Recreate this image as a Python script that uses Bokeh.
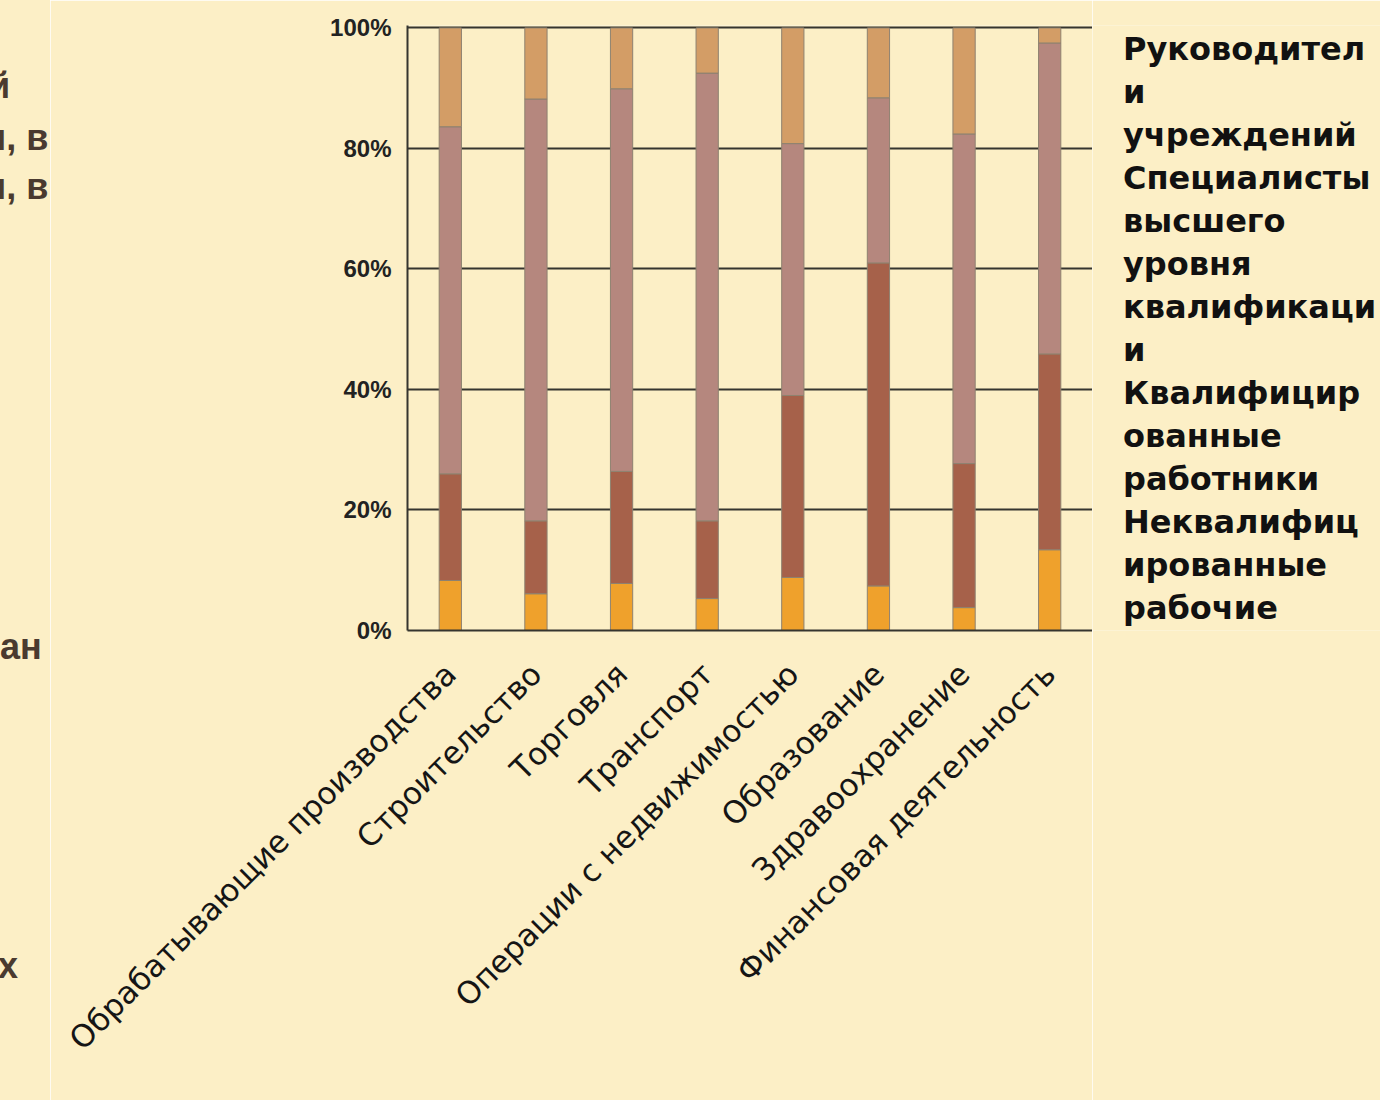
import math
from bokeh.plotting import figure
from bokeh.layouts import row
from bokeh.models import (ColumnDataSource, FactorRange, Range1d, FixedTicker,
                          Legend, LegendItem, Div)
from bokeh.embed import file_html
from bokeh.resources import INLINE

# ---------------- data ----------------
categories = ["Обрабатывающие производства", "Строительство", "Торговля", "Транспорт",
              "Операции с недвижимостью", "Образование", "Здравоохранение",
              "Финансовая деятельность"]
managers = [8.3, 6.1, 7.8, 5.3, 8.8, 7.4, 3.8, 13.4]
specialists = [17.7, 12.1, 18.6, 12.9, 30.2, 53.6, 23.9, 32.5]
skilled = [57.6, 70.0, 63.5, 74.3, 41.8, 27.4, 54.7, 51.6]
unskilled = [16.4, 11.8, 10.1, 7.5, 19.2, 11.6, 17.6, 2.5]

legend_labels = ["Руководител\nи\nучреждений",
                 "Специалисты\nвысшего\nуровня\nквалификаци\nи",
                 "Квалифицир\nованные\nработники",
                 "Неквалифиц\nированные\nрабочие"]
y_ticks = [0, 20, 40, 60, 80, 100]
y_tick_labels = {0: "0%", 20: "20%", 40: "40%", 60: "60%", 80: "80%", 100: "100%"}
side_fragments = ["й", "и, в", "и, в", "ан", "х"]

colors = ["#EFA12C", "#A6614A", "#B5877E", "#D39D66"]
BAR_LINE = "#8E8270"
BG = "#FCEFC6"

# ---------------- geometry (pixels) ----------------
H = 1100
DIV_W = 50
FRAME_TOP = 25
FRAME_BOTTOM = 630
FRAME_LEFT = 407
FRAME_RIGHT = 1092
LEG_W = 288
MAIN_W = FRAME_RIGHT - DIV_W

# ---------------- main chart ----------------
source = ColumnDataSource(dict(cat=categories, m=managers, s=specialists,
                               k=skilled, u=unskilled))

p = figure(width=MAIN_W, height=H, x_range=FactorRange(*categories),
           y_range=Range1d(0, 100.4), output_backend="svg", toolbar_location=None,
           min_border_left=FRAME_LEFT - DIV_W, min_border_right=0,
           min_border_top=FRAME_TOP, min_border_bottom=H - FRAME_BOTTOM)
p.background_fill_color = BG
p.border_fill_color = BG
p.outline_line_color = None

rs = p.vbar_stack(["m", "s", "k", "u"], x="cat", width=0.26, color=colors,
                  line_color=BAR_LINE, line_width=1, source=source)

p.xaxis.axis_line_color = "#35352f"
p.xaxis.axis_line_width = 2
p.xaxis.major_tick_line_color = None
p.xaxis.minor_tick_line_color = None
p.xaxis.major_label_orientation = math.pi / 4
p.xaxis.major_label_text_font = "DejaVu Sans"
p.xaxis.major_label_text_font_size = "31px"
p.xaxis.major_label_text_color = "#151515"
p.xaxis.major_label_standoff = 32

p.yaxis.ticker = FixedTicker(ticks=y_ticks)
p.yaxis.major_label_overrides = y_tick_labels
p.yaxis.axis_line_color = "#35352f"
p.yaxis.axis_line_width = 2
p.yaxis.major_tick_line_color = None
p.yaxis.minor_tick_line_color = None
p.yaxis.major_label_text_font = "Liberation Sans"
p.yaxis.major_label_text_font_style = "bold"
p.yaxis.major_label_text_font_size = "24px"
p.yaxis.major_label_text_color = "#222222"
p.yaxis.major_label_standoff = 10

p.xgrid.grid_line_color = None
p.ygrid.ticker = FixedTicker(ticks=y_ticks)
p.ygrid.grid_line_color = "#35352f"
p.ygrid.grid_line_width = 2

# ---------------- legend panel (separate canvas to the right) ----------------
lf = figure(width=LEG_W, height=H, x_axis_type=None, y_axis_type=None,
            output_backend="svg", toolbar_location=None,
            min_border_left=0, min_border_right=0,
            min_border_top=FRAME_TOP, min_border_bottom=H - FRAME_BOTTOM)
lf.background_fill_color = BG
lf.border_fill_color = BG
lf.outline_line_color = None

swatches = [lf.vbar(x=[], top=[], width=0.5, fill_color=c, line_color=BAR_LINE)
            for c in colors]
blank = lf.vbar(x=[], top=[], width=0.5, fill_alpha=0, line_alpha=0)

items = []
for lab, r in zip(legend_labels, swatches):
    lines = lab.split("\n")
    mid = len(lines) // 2
    for i, ln in enumerate(lines):
        items.append(LegendItem(label=ln, renderers=[r if i == mid else blank]))
legend = Legend(items=items, ncols=1)
legend.location = (8, 1)
legend.background_fill_alpha = 0
legend.border_line_alpha = 0
legend.padding = 0
legend.margin = 0
legend.spacing = 0
legend.glyph_width = 13
legend.glyph_height = 13
legend.label_height = 43
legend.label_standoff = 10
legend.label_text_font = "DejaVu Sans"
legend.label_text_font_style = "bold"
legend.label_text_font_size = "32px"
legend.label_text_baseline = "middle"
legend.label_text_color = "#111111"
legend.inactive_fill_alpha = 0
lf.add_layout(legend, "center")

# ---------------- left strip: clipped text fragments of the slide ----------------
frag_left = [-12, -16, -16, 0, -2]
frag_top = [65, 117, 166, 626, 945]
spans = "".join(
    f'<span style="position:absolute;left:{x}px;top:{t}px;white-space:nowrap;'
    f'font-family:\'Liberation Sans\',Arial,sans-serif;font-weight:bold;'
    f'font-size:36px;line-height:42px;color:#4A3A2F">{txt}</span>'
    for txt, x, t in zip(side_fragments, frag_left, frag_top))
div = Div(text=f'<div style="position:relative;width:{DIV_W}px;height:{H}px;'
               f'overflow:hidden;background:{BG}">{spans}</div>',
          width=DIV_W, height=H, margin=(0, 0, 0, 0),
          styles={"background-color": BG})

layout = row(div, p, lf, spacing=0)
open("out.html", "w").write(file_html(layout, INLINE))
